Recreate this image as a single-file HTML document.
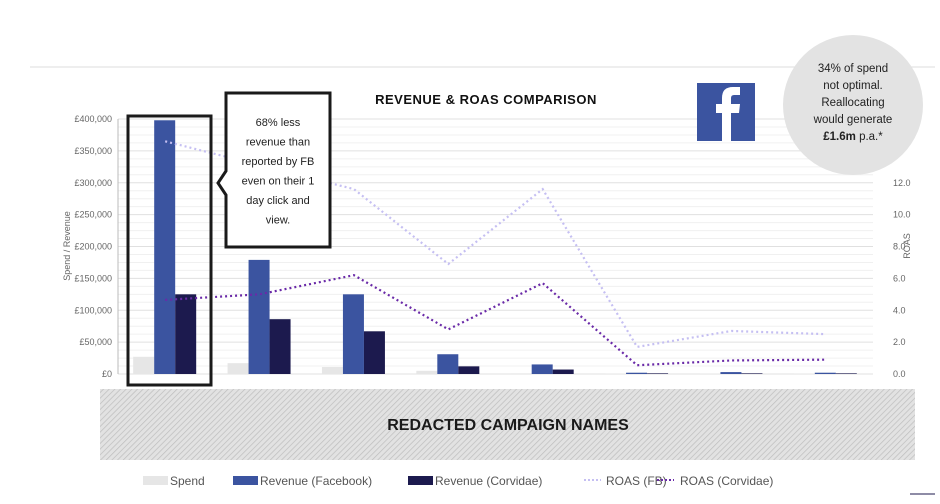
<!DOCTYPE html>
<html><head><meta charset="utf-8"><style>
html,body{margin:0;padding:0;background:#fff;}
svg{display:block;font-family:"Liberation Sans",sans-serif;}
</style></head><body>
<svg id="chart" width="940" height="504" viewBox="0 0 940 504" xmlns="http://www.w3.org/2000/svg">
<defs>
<pattern id="hatch" width="4" height="4" patternUnits="userSpaceOnUse" patternTransform="rotate(45)">
<rect width="4" height="4" fill="#e2e2e2"/><line x1="0" y1="0" x2="0" y2="4" stroke="#bdbdbd" stroke-width="1.4"/>
</pattern>
</defs>
<line x1="30" y1="67" x2="935" y2="67" stroke="#dcdcdc" stroke-width="1"/>
<g id="grid"></g>
<g id="bars"></g>
<g id="lines"></g>
<g id="axes"></g>
<text x="486" y="104" text-anchor="middle" font-size="13" font-weight="bold" letter-spacing="0.5" fill="#111">REVENUE &amp; ROAS COMPARISON</text>
<text transform="translate(70,246) rotate(-90)" text-anchor="middle" font-size="9" fill="#666">Spend / Revenue</text>
<text transform="translate(910,246) rotate(-90)" text-anchor="middle" font-size="9" fill="#666">ROAS</text>
<rect x="128" y="116" width="83" height="269" fill="none" stroke="#1a1a1a" stroke-width="3"/>
<g>
<path d="M226,93 H330 V247 H226 V195 L218,183 L226,171 Z" fill="#fff" stroke="#1a1a1a" stroke-width="3"/>
<text x="278" y="126" text-anchor="middle" font-size="11" fill="#222">
<tspan x="278" dy="0">68% less</tspan><tspan x="278" dy="19.5">revenue than</tspan><tspan x="278" dy="19.5">reported by FB</tspan><tspan x="278" dy="19.5">even on their 1</tspan><tspan x="278" dy="19.5">day click and</tspan><tspan x="278" dy="19.5">view.</tspan></text>
</g>
<g>
<rect x="697" y="83" width="58" height="58" fill="#3b54a0"/>
<path d="M731,141 V113 H739 L740,104 H731 V98 Q731,95 734,95 H740 V87 H733 Q722,87 722,98 V104 H716 V113 H722 V141 Z" fill="#fff"/>
</g>
<g>
<circle cx="853" cy="105" r="70" fill="#e3e3e3"/>
<text text-anchor="middle" font-size="11.5" fill="#222">
<tspan x="853" y="72">34% of spend</tspan><tspan x="853" y="89">not optimal.</tspan><tspan x="853" y="106">Reallocating</tspan><tspan x="853" y="123">would generate</tspan><tspan x="853" y="140"><tspan font-weight="bold">£1.6m</tspan> p.a.*</tspan></text>
</g>
<rect x="100" y="389" width="815" height="71" fill="url(#hatch)"/>
<text x="508" y="430" text-anchor="middle" font-size="16" font-weight="bold" fill="#1a1a1a">REDACTED CAMPAIGN NAMES</text>
<g id="legend" font-size="12" fill="#555">
<rect x="143" y="476" width="25" height="9" fill="#e6e6e6"/>
<text x="170" y="485">Spend</text>
<rect x="233" y="476" width="25" height="9" fill="#3b54a0"/>
<text x="260" y="485">Revenue (Facebook)</text>
<rect x="408" y="476" width="25" height="9" fill="#1c1a4e"/>
<text x="435" y="485">Revenue (Corvidae)</text>
<line x1="584" y1="480" x2="601" y2="480" stroke="#c5bff2" stroke-width="2" stroke-dasharray="2 2"/>
<text x="606" y="485">ROAS (FB)</text>
<line x1="657" y1="480" x2="674" y2="480" stroke="#6a2aa8" stroke-width="2" stroke-dasharray="2 2"/>
<text x="680" y="485">ROAS (Corvidae)</text>
</g>
<line x1="910" y1="494" x2="935" y2="494" stroke="#1c1a4e" stroke-width="1"/>
</svg>
<script>
const categories = ["C1","C2","C3","C4","C5","C6","C7","C8"];
const spend = [27000,17000,11000,5000,1000,500,500,500];
const revenueFB = [398000,179000,125000,31000,15000,2000,3000,2000];
const revenueCorvidae = [125000,86000,67000,12000,7000,1000,1000,1000];
const roasFB = [14.6,13.1,11.6,6.9,11.6,1.7,2.7,2.5];
const roasCorvidae = [4.65,5.0,6.2,2.8,5.7,0.55,0.85,0.9];
const leftTicks = ["£0","£50,000","£100,000","£150,000","£200,000","£250,000","£300,000","£350,000","£400,000"];
const rightTicks = ["0.0","2.0","4.0","6.0","8.0","10.0","12.0"];

const NS="http://www.w3.org/2000/svg";
const X0=118, X1=873, Y0=374, YT=119;
const yL = v => Y0 - v/400000*(Y0-YT);
const yR = v => Y0 - v/16*(Y0-YT);
const band = (X1-X0)/categories.length;
const xC = i => X0 + band*(i+0.5);
function mk(tag, attrs, parent){const e=document.createElementNS(NS,tag);for(const k in attrs)e.setAttribute(k,attrs[k]);parent.appendChild(e);return e;}
const grid=document.getElementById('grid'), bars=document.getElementById('bars'), lines=document.getElementById('lines'), axes=document.getElementById('axes');
for(let v=0; v<=400000; v+=12500){
  const g=mk('line',{x1:X0,x2:X1,y1:yL(v),y2:yL(v),stroke:(v%50000===0)?'#e0e0e0':'#f0f0f0','stroke-width':1},grid);
  
  
}
leftTicks.forEach((t,i)=>{
  const e=mk('text',{x:X0-6,y:yL(i*50000)+3,'text-anchor':'end','font-size':9,fill:'#666'},axes);e.textContent=t;
  
  
});
rightTicks.forEach((t,i)=>{
  const e=mk('text',{x:X1+20,y:yR(i*2)+3,'text-anchor':'start','font-size':9,fill:'#666'},axes);e.textContent=t;
  
  
});
const ax=mk('line',{x1:X0,x2:X0,y1:YT,y2:Y0,stroke:'#bbb'},axes);


const bw=21;
const series=[[spend,'#e6e6e6',-32,'bar-spend'],[revenueFB,'#3b54a0',-11,'bar-revenue-fb'],[revenueCorvidae,'#1c1a4e',10,'bar-revenue-corvidae']];
series.forEach(([arr,col,off,nm])=>{
  arr.forEach((v,i)=>{
    const r=mk('rect',{x:xC(i)+off,y:yL(v),width:bw,height:Math.max(Y0-yL(v),0.5),fill:col},bars);
    
    
  });
});
[[roasFB,'#c5bff2','line-roas-fb'],[roasCorvidae,'#6a2aa8','line-roas-corvidae']].forEach(([arr,col,nm])=>{
  const p=mk('polyline',{points:arr.map((v,i)=>xC(i)+','+yR(v)).join(' '),fill:'none',stroke:col,'stroke-width':2.2,'stroke-dasharray':'2 3'},lines);
  
  
});
</script>
</body></html>
